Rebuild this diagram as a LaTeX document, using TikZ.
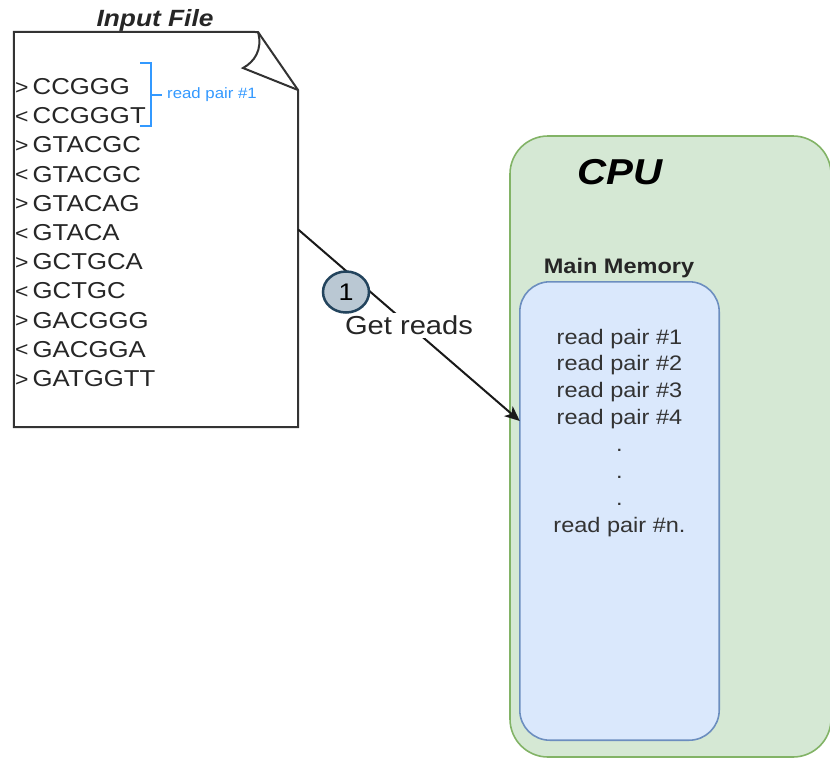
\documentclass[tikz,border=0pt]{standalone}
\usepackage{fontspec}
\setmainfont{Liberation Sans}[FakeStretch=1.12]
\usetikzlibrary{shapes.geometric,arrows.meta}
\definecolor{cpufill}{HTML}{D5E8D4}
\definecolor{cpuline}{HTML}{82B366}
\definecolor{memfill}{HTML}{DAE8FC}
\definecolor{memline}{HTML}{6C8EBF}
\definecolor{stepfill}{HTML}{BAC8D3}
\definecolor{stepline}{HTML}{23445D}
\definecolor{pairblue}{HTML}{3399FF}
% a read line: a direction mark followed by the bases
\newcommand{\seqentry}[2]{\makebox[17.5pt][l]{\fontsize{20.5}{20}\selectfont\raisebox{0.5pt}{#1}}#2}
\tikzset{
  seqtext/.style={anchor=base west, inner sep=0pt, text=black!85,
    font=\fontsize{23}{28}\selectfont},
  memtext/.style={anchor=base, inner sep=0pt, text=black!80,
    font=\fontsize{21}{25}\selectfont},
  docpage/.style={draw=black!80, line width=2pt, fill=white, line join=miter},
  cpubox/.style={draw=cpuline, line width=1.6pt, fill=cpufill, rounded corners=38pt},
  membox/.style={draw=memline, line width=1.6pt, fill=memfill, rounded corners=30pt},
  stepmark/.style={ellipse, draw=stepline, line width=2.5pt, fill=stepfill,
    minimum width=46pt, minimum height=41pt, inner sep=0pt,
    font=\fontsize{24}{28}\selectfont},
  flow/.style={draw=black!90, line width=2pt, -{Stealth[length=15pt,width=13pt,inset=4pt]}},
}
\begin{document}
\begin{tikzpicture}[x=1pt,y=-1pt]
\useasboundingbox (0,0) rectangle (830,758);

% CPU enclosure and its main memory
\draw[cpubox] (510,136) rectangle (831,757);
\node[draw=none, minimum width=199pt, minimum height=458pt, inner sep=0pt] (mem) at (619.5,511) {};
\draw[membox] (mem.north west) rectangle (mem.south east);
\node[inner sep=0pt, font=\fontsize{36}{40}\selectfont\bfseries\itshape] (cpu) at (620,172) {CPU};
\node[inner sep=0pt, text=black!85, font=\fontsize{21}{25}\selectfont\bfseries] (memlabel) at (619,268) {Main Memory};

\foreach \t [count=\i] in {read pair \#1, read pair \#2, read pair \#3, read pair \#4, ., ., ., read pair \#n.}
  \node[memtext] (pair\i) at (619.5, {344 + 26.9*(\i-1)}) {\t};

% input file page with folded corner
\node[draw=none, minimum width=284pt, minimum height=395pt, inner sep=0pt] (doc) at (156,229.5) {};
\draw[docpage] (doc.north west) -- (258,32) -- (298,90) -- (doc.south east) -- (doc.south west) -- cycle;
\draw[black!80, line width=2pt, line join=miter]
  (258,32) .. controls (263,50) and (254,62) .. (243,68) -- (298,90);
\node[inner sep=0pt, text=black!85, font=\fontsize{23.5}{28}\selectfont\bfseries\itshape] (doctitle) at (155,20) {Input File};

\foreach \m/\s [count=\i] in {>/CCGGG, </CCGGGT, >/GTACGC, </GTACGC, >/GTACAG, </GTACA, >/GCTGCA, </GCTGC, >/GACGGG, </GACGGA, >/GATGGTT}
  \node[seqtext] (seq\i) at (15, {94.5 + 29.2*(\i-1)}) {\seqentry{\m}{\s}};

% bracket marking the first read pair
\draw[pairblue, line width=1.6pt] (140,63) -- (151,63) -- (151,126) -- (140,126);
\draw[pairblue, line width=1.6pt] (151,95) -- (162,95);
\node[anchor=west, inner sep=0pt, text=pairblue, font=\fontsize{15}{18}\selectfont] (pairlabel) at (167,95) {read pair \#1};

% step 1: reads go from the file into main memory
\draw[flow] (doc.east) -- node[midway, fill=white, inner sep=3pt, text=black!85,
  font=\fontsize{26}{30}\selectfont] (getreads) {Get reads} ([yshift=90pt]mem.west);
\node[stepmark] (step1) at (346,292) {1};
\end{tikzpicture}
\end{document}
